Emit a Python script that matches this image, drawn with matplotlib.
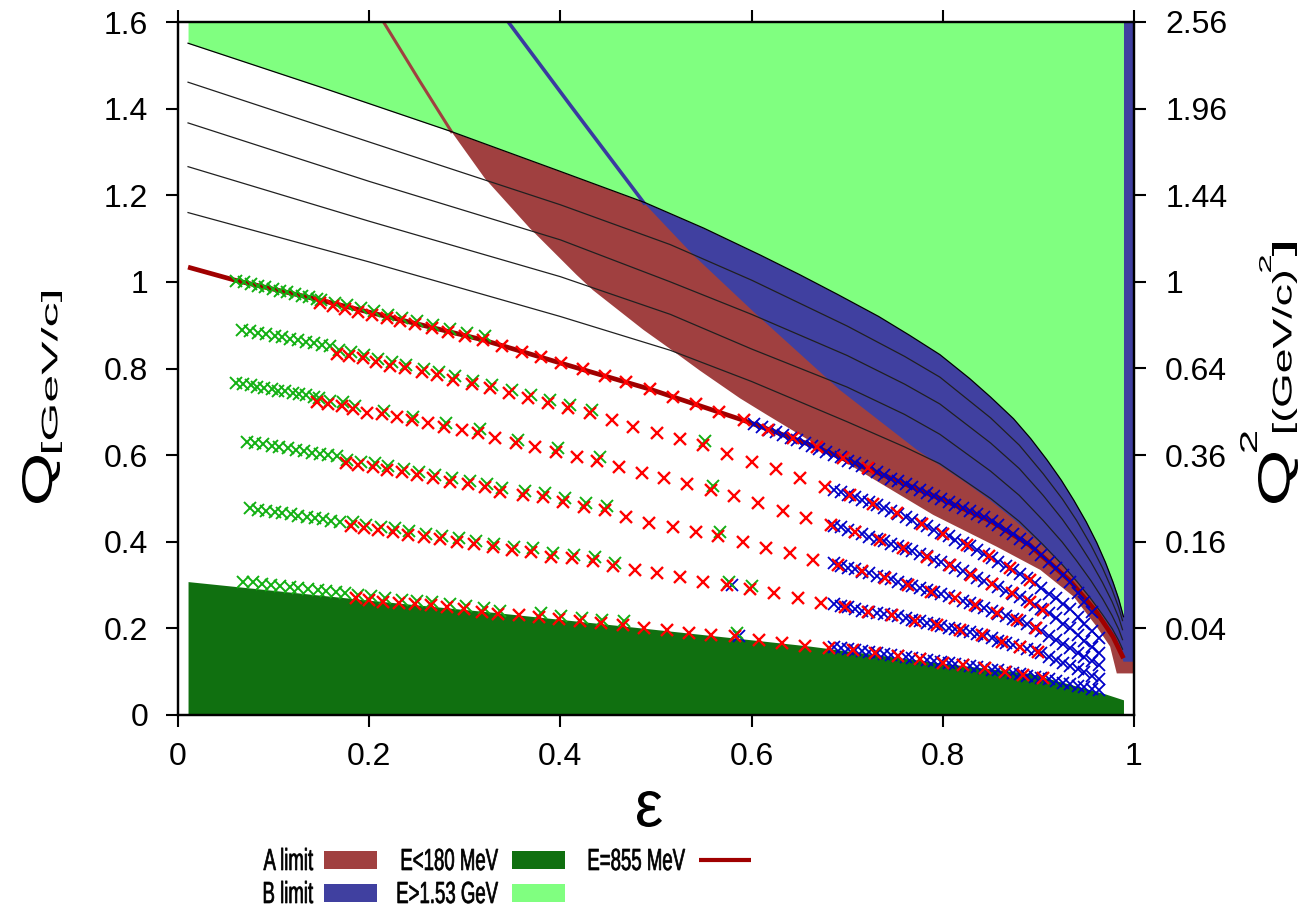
import numpy as np
from matplotlib import pyplot as plt
from matplotlib.patches import Rectangle, PathPatch
from matplotlib.textpath import TextPath
from matplotlib.font_manager import FontProperties
from matplotlib.transforms import Affine2D, IdentityTransform

plt.rcParams['font.family'] = ['Liberation Sans', 'DejaVu Sans']

# ---- limit curves (eps, Q in GeV/c) ----
# E = 1.53 GeV line: lower edge of the light green area
hi_eps = [0.0105, 0.15, 0.286, 0.40, 0.4885, 0.55, 0.609, 0.65, 0.69, 0.733, 0.765, 0.797, 0.828,
          0.85, 0.874, 0.892, 0.909, 0.924, 0.937, 0.95, 0.961, 0.97, 0.978, 0.984, 0.989]
hi_q = [1.551, 1.449, 1.347, 1.255, 1.183, 1.124, 1.062, 1.017, 0.971, 0.920, 0.877, 0.832, 0.777,
        0.734, 0.684, 0.638, 0.589, 0.542, 0.496, 0.446, 0.398, 0.353, 0.307, 0.268, 0.227]

# E = 180 MeV line: upper edge of the dark green area
lo_eps = [0.0105, 0.20, 0.33, 0.455, 0.661, 0.787, 0.891, 0.968, 0.989]
lo_q = [0.308, 0.265, 0.237, 0.208, 0.159, 0.123, 0.096, 0.050, 0.035]

# spectrometer A limit (outline of the red area)
a_eps = [0.215, 0.253, 0.286, 0.321, 0.368, 0.417, 0.434, 0.487, 0.515, 0.546, 0.588, 0.616,
         0.70, 0.79, 0.856, 0.902, 0.937, 0.961, 0.975, 0.982, 1.0]
a_q = [1.60, 1.463, 1.347, 1.239, 1.124, 1.016, 0.981, 0.889, 0.845, 0.795, 0.731, 0.693,
       0.581, 0.462, 0.389, 0.335, 0.273, 0.204, 0.158, 0.096, 0.096]

# spectrometer B limit (outline of the blue area)
b_eps = [0.3455, 0.410, 0.4875, 0.539, 0.602, 0.623, 0.6925, 0.745, 0.773, 0.80, 0.825, 0.85,
         0.875, 0.90, 0.925, 0.945, 0.961, 0.975, 0.982, 0.989, 1.0]
b_q = [1.60, 1.409, 1.182, 1.062, 0.931, 0.889, 0.75, 0.66, 0.612, 0.572, 0.535, 0.495,
       0.45, 0.40, 0.345, 0.295, 0.25, 0.20, 0.165, 0.123, 0.123]

# thin constant energy lines between 855 MeV and 1.53 GeV
line_eps = [0.0105, 0.20, 0.40, 0.515, 0.60, 0.70, 0.76, 0.797, 0.85, 0.88, 0.905, 0.925,
            0.94, 0.955, 0.967, 0.977, 0.984, 0.988]
line2_q = [1.461, 1.323, 1.178, 1.086, 1.004, 0.898, 0.828, 0.780, 0.686, 0.623, 0.557, 0.499,
           0.449, 0.392, 0.340, 0.290, 0.248, 0.218]
line3_q = [1.367, 1.232, 1.097, 1.0, 0.925, 0.830, 0.764, 0.718, 0.628, 0.569, 0.507, 0.452,
           0.405, 0.353, 0.306, 0.262, 0.225, 0.197]
line4_q = [1.266, 1.140, 1.012, 0.925, 0.845, 0.757, 0.694, 0.648, 0.563, 0.507, 0.449, 0.399,
           0.356, 0.310, 0.269, 0.230, 0.198, 0.174]
line5_q = [1.160, 1.046, 0.920, 0.842, 0.770, 0.677, 0.619, 0.580, 0.500, 0.447, 0.393, 0.347,
           0.309, 0.268, 0.232, 0.200, 0.172, 0.152]

# E = 855 MeV line
e855_eps = [0.0105, 0.061, 0.145, 0.20, 0.319, 0.401, 0.494, 0.592, 0.66, 0.72, 0.797, 0.85,
            0.891, 0.933, 0.961, 0.978, 0.989]
e855_q = [1.034, 1.003, 0.960, 0.930, 0.866, 0.812, 0.752, 0.680, 0.625, 0.570, 0.500, 0.448,
          0.392, 0.310, 0.237, 0.181, 0.131]

# ---- measured settings: red = spec. A, blue = spec. B, green = spec. C ----
# 855 MeV
r855_eps = [0.1485, 0.1625, 0.1747, 0.1886, 0.2026, 0.2183, 0.2322, 0.2479, 0.2654, 0.2828, 0.3002, 0.3194,
            0.3386, 0.3595, 0.380, 0.401, 0.424, 0.4467, 0.469, 0.4937, 0.5175, 0.5418, 0.566, 0.592,
            0.6175, 0.6436, 0.6687, 0.6953, 0.7214]
r855_q = [0.951, 0.944, 0.938, 0.931, 0.924, 0.916, 0.909, 0.902, 0.893, 0.884, 0.875, 0.866,
          0.851, 0.837, 0.826, 0.812, 0.798, 0.783, 0.768, 0.752, 0.735, 0.718, 0.700, 0.680,
          0.658, 0.639, 0.618, 0.593, 0.570]
g855_eps = [0.061, 0.069, 0.076, 0.084, 0.091, 0.099, 0.107, 0.114, 0.122, 0.130, 0.137, 0.145,
            0.150, 0.164, 0.177, 0.191, 0.205, 0.220, 0.234, 0.250, 0.267, 0.285, 0.302, 0.321]
g855_q = [1.003, 0.999, 0.995, 0.991, 0.988, 0.984, 0.980, 0.976, 0.972, 0.968, 0.964, 0.960,
          0.959, 0.952, 0.946, 0.939, 0.932, 0.924, 0.917, 0.910, 0.901, 0.892, 0.883, 0.874]
b855_eps = [0.603, 0.611, 0.618, 0.626, 0.633, 0.641, 0.648, 0.656, 0.663, 0.671,
            0.678, 0.686, 0.693, 0.701, 0.708, 0.716, 0.723, 0.731, 0.738, 0.746,
            0.753, 0.761, 0.768, 0.776, 0.783, 0.791, 0.798, 0.806, 0.813, 0.821,
            0.828, 0.836, 0.843, 0.851, 0.858, 0.866, 0.873, 0.881, 0.888, 0.896,
            0.903, 0.911, 0.918, 0.926, 0.933, 0.941, 0.948, 0.956]
b855_q = [0.672, 0.665, 0.659, 0.653, 0.647, 0.640, 0.634, 0.627, 0.621, 0.614,
          0.608, 0.601, 0.595, 0.587, 0.581, 0.574, 0.567, 0.560, 0.554, 0.546,
          0.540, 0.533, 0.526, 0.519, 0.513, 0.506, 0.499, 0.492, 0.485, 0.477,
          0.471, 0.463, 0.457, 0.449, 0.439, 0.428, 0.418, 0.407, 0.398, 0.383,
          0.369, 0.353, 0.339, 0.323, 0.306, 0.282, 0.261, 0.237]

# the other five energies share the eps positions of the dense B scans
band_eps = [0.686, 0.693, 0.701, 0.708, 0.716, 0.723, 0.731, 0.738, 0.746, 0.753,
            0.761, 0.768, 0.776, 0.783, 0.791, 0.798, 0.806, 0.813, 0.821, 0.828,
            0.836, 0.843, 0.851, 0.858, 0.866, 0.873, 0.881, 0.888, 0.896, 0.903,
            0.911, 0.918, 0.926, 0.933, 0.941, 0.948, 0.956, 0.963]

# 720 MeV
r720_eps = [0.166, 0.1792, 0.1932, 0.2071, 0.2218, 0.2374, 0.2549, 0.2706, 0.2880, 0.3072, 0.3264,
            0.3466, 0.3665, 0.387, 0.408, 0.431, 0.4536, 0.476, 0.5007, 0.525, 0.5495, 0.574, 0.600,
            0.6255, 0.6506, 0.677, 0.7029, 0.727, 0.752, 0.778, 0.8005, 0.825, 0.848, 0.870, 0.891]
r720_q = [0.834, 0.829, 0.824, 0.814, 0.806, 0.801, 0.791, 0.785, 0.774, 0.764, 0.754,
          0.743, 0.731, 0.720, 0.708, 0.697, 0.680, 0.666, 0.652, 0.637, 0.624, 0.603, 0.585,
          0.567, 0.547, 0.527, 0.508, 0.487, 0.466, 0.441, 0.418, 0.393, 0.366, 0.339, 0.312]
g720_eps = [0.067, 0.075, 0.084, 0.092, 0.101, 0.109, 0.117, 0.126, 0.134, 0.142, 0.151, 0.159,
            0.168, 0.181, 0.195, 0.209, 0.224, 0.239, 0.257, 0.273, 0.290, 0.309, 0.328, 0.349,
            0.369, 0.389, 0.410, 0.433, 0.551]
g720_q = [0.889, 0.886, 0.882, 0.879, 0.875, 0.872, 0.869, 0.865, 0.862, 0.858, 0.855, 0.851,
          0.842, 0.837, 0.832, 0.822, 0.814, 0.809, 0.799, 0.793, 0.782, 0.772, 0.762, 0.751,
          0.739, 0.728, 0.716, 0.705, 0.632]
b720_q = [0.520, 0.515, 0.509, 0.503, 0.497, 0.491, 0.484, 0.478, 0.471, 0.465,
          0.458, 0.451, 0.443, 0.436, 0.428, 0.421, 0.413, 0.405, 0.397, 0.390,
          0.380, 0.372, 0.362, 0.354, 0.344, 0.335, 0.325, 0.316, 0.304, 0.293,
          0.280, 0.269, 0.256, 0.245, 0.227, 0.211, 0.193, 0.178]

# 585 MeV
r585_eps = [0.1451, 0.1573, 0.1712, 0.1834, 0.1974, 0.2131, 0.2288, 0.2444, 0.2619, 0.2782, 0.2967,
            0.3141, 0.3316, 0.3536, 0.3734, 0.3954, 0.417, 0.4386, 0.4616, 0.485, 0.5087, 0.5328,
            0.5575, 0.582, 0.607, 0.6325, 0.657, 0.683, 0.708, 0.734, 0.7587, 0.783, 0.8075, 0.830,
            0.851, 0.872, 0.891, 0.905]
r585_q = [0.7235, 0.718, 0.714, 0.706, 0.698, 0.695, 0.689, 0.681, 0.674, 0.666, 0.658,
          0.652, 0.639, 0.6275, 0.618, 0.608, 0.5965, 0.5866, 0.5734, 0.5596, 0.5467, 0.5335,
          0.520, 0.5058, 0.4889, 0.4718, 0.4543, 0.439, 0.4233, 0.404, 0.385, 0.3656, 0.346, 0.323,
          0.3025, 0.281, 0.2617, 0.2425]
g585_eps = [0.061, 0.068, 0.076, 0.083, 0.090, 0.098, 0.105, 0.112, 0.120, 0.127, 0.134, 0.142,
            0.147, 0.159, 0.173, 0.185, 0.215, 0.246, 0.280, 0.316, 0.356, 0.397, 0.441, 0.560]
g585_q = [0.767, 0.764, 0.761, 0.758, 0.755, 0.752, 0.749, 0.747, 0.744, 0.741, 0.738, 0.735,
          0.732, 0.726, 0.722, 0.714, 0.703, 0.689, 0.674, 0.660, 0.636, 0.616, 0.595, 0.528]
b585_q = [0.437, 0.433, 0.428, 0.423, 0.417, 0.412, 0.406, 0.401, 0.395, 0.390,
          0.383, 0.378, 0.371, 0.366, 0.359, 0.354, 0.347, 0.340, 0.332, 0.325,
          0.317, 0.310, 0.3025, 0.295, 0.287, 0.280, 0.272, 0.265, 0.255, 0.245,
          0.236, 0.223, 0.211, 0.200, 0.185, 0.172, 0.157, 0.144]

# 450 MeV
r450_eps = [0.1754, 0.1886, 0.2037, 0.2183, 0.234, 0.2503, 0.2671, 0.2845, 0.3030, 0.3211, 0.3368,
            0.361, 0.382, 0.403, 0.425, 0.4467, 0.469, 0.493, 0.5175, 0.5415, 0.565, 0.5907, 0.615,
            0.640, 0.6646, 0.6907, 0.715, 0.7395, 0.764, 0.788, 0.8128, 0.8337, 0.8564, 0.8773, 0.8975]
r450_q = [0.581, 0.577, 0.573, 0.566, 0.560, 0.554, 0.547, 0.539, 0.533, 0.526, 0.516,
          0.509, 0.504, 0.4927, 0.481, 0.4734, 0.4566, 0.444, 0.435, 0.423, 0.414, 0.400, 0.385,
          0.373, 0.358, 0.3464, 0.332, 0.317, 0.301, 0.285, 0.2694, 0.254, 0.235, 0.219, 0.200]
g450_eps = [0.072, 0.081, 0.089, 0.098, 0.106, 0.115, 0.123, 0.132, 0.140, 0.149, 0.157, 0.166,
            0.177, 0.191, 0.206, 0.220, 0.236, 0.252, 0.269, 0.287, 0.305, 0.323, 0.339, 0.363,
            0.384, 0.405, 0.427, 0.449, 0.567]
g450_q = [0.631, 0.628, 0.625, 0.622, 0.619, 0.616, 0.612, 0.609, 0.606, 0.603, 0.600, 0.597,
          0.589, 0.585, 0.581, 0.574, 0.568, 0.562, 0.555, 0.547, 0.541, 0.534, 0.524, 0.517,
          0.512, 0.501, 0.489, 0.482, 0.422]
b450_q = [0.350, 0.345, 0.340, 0.336, 0.331, 0.327, 0.322, 0.318, 0.313, 0.308,
          0.303, 0.298, 0.293, 0.288, 0.283, 0.279, 0.274, 0.269, 0.263, 0.258,
          0.252, 0.246, 0.239, 0.234, 0.228, 0.222, 0.216, 0.209, 0.201, 0.193,
          0.183, 0.174, 0.163, 0.154, 0.144, 0.135, 0.124, 0.115]

# 315 MeV
r315_eps = [0.181, 0.1949, 0.2095, 0.2246, 0.2403, 0.2573, 0.2741, 0.2915, 0.3096, 0.3292,
            0.349, 0.369, 0.390, 0.412, 0.4338, 0.4553, 0.478, 0.5014, 0.525, 0.5495, 0.574, 0.598,
            0.623, 0.649, 0.673, 0.6977, 0.722, 0.7465, 0.771, 0.7936, 0.818, 0.8407, 0.8616, 0.8808, 0.900]
r315_q = [0.4365, 0.431, 0.427, 0.423, 0.416, 0.410, 0.406, 0.400, 0.394, 0.387,
          0.381, 0.377, 0.3656, 0.362, 0.3564, 0.344, 0.335, 0.327, 0.319, 0.308, 0.300, 0.290,
          0.281, 0.2695, 0.259, 0.250, 0.2386, 0.231, 0.218, 0.208, 0.196, 0.185, 0.169, 0.158, 0.146]
g315_eps = [0.075, 0.084, 0.092, 0.101, 0.109, 0.118, 0.126, 0.135, 0.143, 0.152, 0.160, 0.169,
            0.183, 0.197, 0.212, 0.227, 0.242, 0.259, 0.276, 0.294, 0.312, 0.331, 0.351, 0.371,
            0.392, 0.414, 0.436, 0.457, 0.576, 0.600]
g315_q = [0.477, 0.474, 0.471, 0.469, 0.466, 0.463, 0.460, 0.457, 0.454, 0.452, 0.449, 0.446,
          0.445, 0.439, 0.435, 0.431, 0.424, 0.418, 0.414, 0.408, 0.402, 0.395, 0.389, 0.385,
          0.374, 0.370, 0.364, 0.352, 0.308, 0.298]
b315_q = [0.256, 0.252, 0.249, 0.245, 0.241, 0.238, 0.236, 0.234, 0.231, 0.228,
          0.223, 0.220, 0.216, 0.213, 0.209, 0.206, 0.202, 0.198, 0.195, 0.191,
          0.187, 0.183, 0.177, 0.172, 0.166, 0.162, 0.158, 0.153, 0.149, 0.143,
          0.135, 0.128, 0.121, 0.114, 0.106, 0.099, 0.091, 0.084]

# 180 MeV
r180_eps = [0.1859, 0.2001, 0.2148, 0.2315, 0.2479, 0.2643, 0.2817, 0.2992, 0.3177, 0.335,
            0.357, 0.378, 0.399, 0.4205, 0.442, 0.465, 0.4875, 0.511, 0.535, 0.558, 0.5826, 0.608,
            0.6315, 0.656, 0.681, 0.7064, 0.729, 0.7535, 0.776, 0.8005, 0.8215, 0.844, 0.865, 0.884, 0.905]
r180_q = [0.2695, 0.2656, 0.2617, 0.258, 0.2564, 0.254, 0.2487, 0.244, 0.2386, 0.2333,
          0.231, 0.227, 0.221, 0.217, 0.2117, 0.208, 0.200, 0.196, 0.1886, 0.185, 0.1824, 0.173,
          0.167, 0.159, 0.154, 0.150, 0.1425, 0.136, 0.1286, 0.121, 0.1155, 0.108, 0.100, 0.0924, 0.0847]
g180_eps = [0.068, 0.078, 0.088, 0.097, 0.107, 0.117, 0.126, 0.136, 0.146, 0.155, 0.165, 0.175,
            0.188, 0.202, 0.217, 0.234, 0.250, 0.266, 0.284, 0.301, 0.320, 0.337, 0.380, 0.401,
            0.423, 0.444, 0.467, 0.585]
g180_q = [0.308, 0.306, 0.303, 0.301, 0.298, 0.296, 0.293, 0.291, 0.288, 0.286, 0.283, 0.281,
          0.278, 0.274, 0.270, 0.266, 0.264, 0.262, 0.257, 0.252, 0.247, 0.241, 0.235, 0.229,
          0.225, 0.220, 0.216, 0.190]
b180_q = [0.158, 0.155, 0.152, 0.150, 0.147, 0.145, 0.142, 0.140, 0.138, 0.136,
          0.133, 0.131, 0.129, 0.126, 0.124, 0.122, 0.120, 0.118, 0.116, 0.113,
          0.111, 0.108, 0.105, 0.103, 0.100, 0.097, 0.094, 0.091, 0.088, 0.085,
          0.082, 0.079, 0.075, 0.071, 0.067, 0.064, 0.060, 0.057]

# two single B settings in the middle of the plot
bx_eps = [0.579, 0.587]
bx_q = [0.300, 0.182]

q_ticks = [0, 0.2, 0.4, 0.6, 0.8, 1.0, 1.2, 1.4, 1.6]
q_labels = ['0', '0.2', '0.4', '0.6', '0.8', '1', '1.2', '1.4', '1.6']
eps_ticks = [0, 0.2, 0.4, 0.6, 0.8, 1.0]
eps_labels = ['0', '0.2', '0.4', '0.6', '0.8', '1']
q2_labels = ['0.04', '0.16', '0.36', '0.64', '1', '1.44', '1.96', '2.56']

RED_AREA = '#a04040'
BLUE_AREA = '#4040a0'
DARK_GREEN = '#107010'
LIGHT_GREEN = '#80ff80'
LINE855 = '#a00000'

W, H = 1309, 908
fig = plt.figure(figsize=(W / 100, H / 100), dpi=100)
ax = fig.add_axes([178 / W, 193 / H, 956 / W, 693 / H])

# areas
ax.fill(a_eps + [1.0], a_q + [1.6], color=RED_AREA, lw=0, zorder=1)
ax.fill(b_eps + [1.0], b_q + [1.6], color=BLUE_AREA, lw=0, zorder=2)
ax.fill_between(hi_eps, hi_q, 1.6, color=LIGHT_GREEN, lw=0, zorder=3)
ax.plot(a_eps[:3], a_q[:3], color=RED_AREA, lw=2.2, zorder=4)
ax.plot(b_eps[:3], b_q[:3], color='#3a3aa0', lw=2.6, zorder=4)

# constant energy lines
ax.plot(hi_eps, hi_q, color='k', lw=0.9, zorder=5)
for q in [line2_q, line3_q, line4_q, line5_q]:
    ax.plot(line_eps, q, color='#202020', lw=0.9, zorder=5)

ax.fill_between(lo_eps, 0, lo_q, color=DARK_GREEN, lw=0, zorder=6)
ax.plot(e855_eps, e855_q, color=LINE855, lw=3.4, zorder=7, solid_capstyle='butt')

# settings
blue_sets = [(b855_eps, b855_q), (band_eps, b720_q), (band_eps, b585_q),
             (band_eps, b450_q), (band_eps, b315_q), (band_eps, b180_q), (bx_eps, bx_q)]
green_sets = [(g855_eps, g855_q), (g720_eps, g720_q), (g585_eps, g585_q),
              (g450_eps, g450_q), (g315_eps, g315_q), (g180_eps, g180_q)]
red_sets = [(r855_eps, r855_q), (r720_eps, r720_q), (r585_eps, r585_q),
            (r450_eps, r450_q), (r315_eps, r315_q), (r180_eps, r180_q)]
for e, q in blue_sets:
    ax.plot(e, q, ls='none', marker='x', ms=9, mew=1.3, color='#0000c8', zorder=8)
for e, q in green_sets:
    ax.plot(e, q, ls='none', marker='x', ms=8.5, mew=1.4, color='#12b012', zorder=9)
for e, q in red_sets:
    ax.plot(e, q, ls='none', marker='x', ms=8.5, mew=1.7, color='#ff0000', zorder=10)

ax.set_xlim(0, 1)
ax.set_ylim(0, 1.6)
ax.set_xticks(eps_ticks)
ax.set_xticklabels(eps_labels)
ax.set_yticks(q_ticks)
ax.set_yticklabels(q_labels)
ax.tick_params(direction='out', length=8.5, width=1.5, labelsize=23, pad=13, top=True)
ax.tick_params(axis='x', pad=11)

ax2 = ax.twinx()
ax2.set_ylim(0, 1.6)
ax2.set_yticks(np.sqrt([float(s) for s in q2_labels]))
ax2.set_yticklabels(q2_labels)
ax2.tick_params(direction='out', length=8.5, width=1.5, labelsize=23, pad=14)
for a in (ax, ax2):
    for s in a.spines.values():
        s.set_linewidth(1.6)
        s.set_zorder(20)

# ---- lettering of titles and key: glyph outlines fitted into pixel boxes ----
base_font = FontProperties(family='Liberation Sans')


def fit_text(s, x0, x1, y0, y1, rot=0):
    tp = TextPath((0, 0), s, size=100, prop=base_font)
    ext = tp.get_extents()
    if rot == 0:
        tr = (Affine2D().translate(-ext.x0, -ext.y0)
              .scale((x1 - x0) / ext.width, (y1 - y0) / ext.height)
              .translate(x0, H - y1))
    else:
        tr = (Affine2D().translate(-ext.x0, -ext.y0)
              .scale((y1 - y0) / ext.width, (x1 - x0) / ext.height)
              .rotate_deg(90).translate(x1, H - y1))
    fig.add_artist(PathPatch(tp, transform=tr, facecolor='k', edgecolor='none'))


def key_text(s, x_right, y_base, size=30.5, squeeze=0.61):
    tp = TextPath((0, 0), s, size=size, prop=base_font)
    width = tp.get_extents().x1 * squeeze
    tr = Affine2D().scale(squeeze, 1.0).translate(x_right - width, H - y_base)
    fig.add_artist(PathPatch(tp, transform=tr, facecolor='k', edgecolor='k', lw=0.5))


# axis titles
fit_text('\u03b5', 637, 662, 791, 827)
fit_text('Q', 22, 60, 456, 503, rot=90)
fit_text('[GeV/c]', 41, 62, 292, 452, rot=90)
fit_text('Q', 1258, 1298, 453, 503, rot=90)
fit_text('2', 1240, 1257, 432, 452, rot=90)
fit_text('[(GeV/c)', 1272, 1297, 272, 432, rot=90)
fit_text('2', 1259, 1271, 256, 272, rot=90)
fit_text(']', 1272, 1297, 243, 256, rot=90)

# key below the plot, gnuplot style (label, then sample)
key_labels = ['A limit', 'B limit', 'E<180 MeV', 'E>1.53 GeV', 'E=855 MeV']
key_colors = [RED_AREA, BLUE_AREA, DARK_GREEN, LIGHT_GREEN, LINE855]
col_right = [313, 313, 498, 498, 685]
col_box = [(324, 377), (324, 377), (512, 565), (512, 565), (699, 751)]
row_base = [870, 903, 870, 903, 870]
for lab, col, xr, (bx0, bx1), yb in zip(key_labels, key_colors, col_right, col_box, row_base):
    key_text(lab, xr, yb)
    if lab.startswith('E=855'):
        fig.add_artist(plt.Line2D([bx0, bx1], [H - yb + 10, H - yb + 10], transform=IdentityTransform(),
                                  color=col, lw=3.0, solid_capstyle='butt'))
    else:
        fig.add_artist(Rectangle((bx0, H - yb + 1), bx1 - bx0, 18, transform=IdentityTransform(),
                                 facecolor=col, edgecolor='none'))

fig.savefig('out.png', dpi=100)
